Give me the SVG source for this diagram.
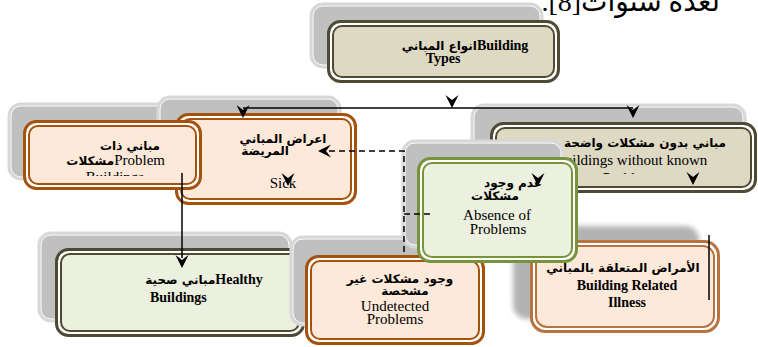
<svg xmlns="http://www.w3.org/2000/svg" xmlns:xlink="http://www.w3.org/1999/xlink" width="758" height="347" viewBox="0 0 758 347">
<style>
.sh{fill:#c0c0c0;stroke:#d8d8d8;stroke-width:3}
.shi{fill:none;stroke:#ffffff;stroke-width:1}
.oo{fill:#ffffff;stroke:#4f4a34;stroke-width:3}
.io{stroke:#4f4a34;stroke-width:2}
.ob{fill:#ffffff;stroke:#a5520c;stroke-width:3}
.ib{fill:#fde9d9;stroke:#a5520c;stroke-width:2}
.og{fill:#ffffff;stroke:#77933c;stroke-width:3}
.ig{fill:#ebf1de;stroke:#77933c;stroke-width:2}
.tan{fill:#ddd9c3}
.grn{fill:#ebf1de}
text{font-family:"Liberation Serif","DejaVu Sans",serif;fill:#000}
.ar{font-family:"DejaVu Sans",sans-serif;font-weight:bold;font-size:12px}
.en{font-size:15px}
.bd{font-weight:bold;font-size:14px}
.c{text-anchor:middle}
.ln{stroke:#000;stroke-width:1.5;fill:none}
.ds{stroke:#000;stroke-width:1.5;fill:none;stroke-dasharray:6 4}
</style>
<defs>
<path id="ah" d="M-6.5,-13 L0,0 L6.5,-13 L0,-8 Z" fill="#000"/>
<filter id="blur" x="-10%" y="-10%" width="120%" height="120%"><feGaussianBlur stdDeviation="2.5"/></filter>
<clipPath id="cpB"><rect x="0" y="0" width="758" height="176"/></clipPath>
<clipPath id="cpS"><rect x="0" y="178" width="758" height="20"/></clipPath>
<clipPath id="cpW"><rect x="0" y="0" width="758" height="174"/></clipPath>
</defs>

<text x="720" y="11" direction="rtl" font-size="28" style="font-family:'Liberation Serif','DejaVu Sans',serif">لعدة سنوات[8].</text>

<g id="building-types">
<rect class="sh" x="311" y="4" width="231" height="63" rx="12"/>
<rect class="shi" x="313" y="6" width="227" height="59" rx="10"/>
<rect class="oo" x="328.5" y="21.5" width="230" height="60" rx="12"/>
<rect class="io tan" x="333" y="26" width="221" height="51" rx="9"/>
<text x="465" y="50" class="c"><tspan class="ar">انواع المباني</tspan><tspan class="bd">Building</tspan></text>
<text x="443" y="63" class="c bd">Types</text>
</g>

<g id="no-known-problems">
<rect class="sh" x="472" y="105" width="273" height="70" rx="12"/>
<rect class="shi" x="474" y="107" width="269" height="66" rx="10"/>
<rect class="oo" x="491.5" y="123.5" width="264" height="68" rx="12"/>
<rect class="io tan" x="496" y="128" width="255" height="59" rx="9"/>
<text x="645" y="147" class="c ar">مباني بدون مشكلات واضحة</text>
<text x="631" y="165" class="c en" font-size="16">Buildings without known</text>
<text x="631" y="183" class="c en" font-size="16" clip-path="url(#cpW)">Problems</text>
</g>

<g id="problem-buildings-shadow">
<rect class="sh" x="9" y="104" width="178" height="75" rx="12"/>
<rect class="shi" x="11" y="106" width="174" height="71" rx="10"/>
</g>

<g id="sick-building">
<rect class="sh" x="158" y="97" width="182" height="90" rx="12"/>
<rect class="shi" x="160" y="99" width="178" height="86" rx="10"/>
<rect class="ob" x="176.5" y="114.5" width="179" height="89" rx="12"/>
<rect class="ib" x="181" y="119" width="170" height="80" rx="9"/>
<text x="283" y="143" class="c ar">اعراض المباني</text>
<text x="265" y="155" class="c ar">المريضة</text>
<text x="283" y="188" class="c en" clip-path="url(#cpS)">Sick</text>
</g>

<g id="problem-buildings">
<rect class="ob" x="24.5" y="121.5" width="176" height="67" rx="12"/>
<rect class="ib" x="29" y="126" width="167" height="58" rx="9"/>
<text x="160" y="150" class="ar" text-anchor="end">مباني ذات</text>
<text x="165" y="165" text-anchor="end"><tspan class="ar">مشكلات</tspan><tspan class="en">Problem</tspan></text>
<text x="115" y="182" class="c en" clip-path="url(#cpB)">Buildings</text>
</g>

<g id="healthy-buildings">
<rect class="sh" x="39" y="233" width="252" height="88" rx="12"/>
<rect class="shi" x="41" y="235" width="248" height="84" rx="10"/>
<rect class="oo" x="56.5" y="249.5" width="247" height="86" rx="12"/>
<rect class="io grn" x="61" y="254" width="238" height="77" rx="9"/>
<text x="204" y="284" class="c"><tspan class="ar">مباني صحية</tspan><tspan class="bd">Healthy</tspan></text>
<text x="150" y="302" class="bd">Buildings</text>
</g>

<g id="undetected-problems">
<rect class="sh" x="291" y="237" width="178" height="88" rx="12"/>
<rect class="shi" x="293" y="239" width="174" height="84" rx="10"/>
<rect class="ob" x="306.5" y="256.5" width="177" height="87" rx="12"/>
<rect class="ib" x="311" y="261" width="168" height="78" rx="9"/>
<text x="400" y="283" class="c ar">وجود مشكلات غير</text>
<text x="405" y="295" class="c ar">مشخصة</text>
<text x="395" y="311" class="c en">Undetected</text>
<text x="395" y="324" class="c en">Problems</text>
</g>

<g id="building-related-illness">
<rect x="513" y="226" width="186" height="93" rx="14" fill="#b3b3b3" filter="url(#blur)"/>
<rect x="531.5" y="241.5" width="187" height="90" rx="14" fill="#ffffff" stroke="#b8733f" stroke-width="3"/>
<rect x="536" y="246" width="178" height="81" rx="11" fill="#fde9d9" stroke="#b8733f" stroke-width="2"/>
<text x="623" y="272" class="c ar">الأمراض المتعلقة بالمباني</text>
<text x="627" y="290" class="c bd">Building Related</text>
<text x="627" y="307" class="c bd">Illness</text>
</g>

<g id="absence-of-problems">
<rect class="sh" x="403" y="141" width="160" height="106" rx="12"/>
<rect class="shi" x="405" y="143" width="156" height="102" rx="10"/>
<rect class="og" x="418.5" y="158.5" width="158" height="103" rx="12"/>
<rect class="ig" x="423" y="163" width="149" height="94" rx="9"/>
<text x="513" y="187" class="c ar">عدم وجود</text>
<text x="495" y="200" class="c ar">مشكلات</text>
<text x="497" y="220" class="c en">Absence of</text>
<text x="498" y="234" class="c en">Problems</text>
</g>

<g id="connectors">
<line class="ln" x1="243" y1="108" x2="633" y2="108"/>
<use xlink:href="#ah" transform="translate(452,108)"/>
<use xlink:href="#ah" transform="translate(243,118)"/>
<use xlink:href="#ah" transform="translate(633,118)"/>
<use xlink:href="#ah" transform="translate(288,186)"/>
<use xlink:href="#ah" transform="translate(693,185)"/>
<use xlink:href="#ah" transform="translate(538,186)"/>
<line class="ln" x1="182" y1="173" x2="182" y2="258"/>
<use xlink:href="#ah" transform="translate(182,268)"/>
<path class="ds" d="M404,252 V151 H326"/>
<use xlink:href="#ah" transform="translate(318,151) rotate(90)"/>
<line class="ds" x1="404" y1="214" x2="434" y2="214"/>
<line class="ln" x1="709" y1="235" x2="709" y2="300"/>
</g>
</svg>
